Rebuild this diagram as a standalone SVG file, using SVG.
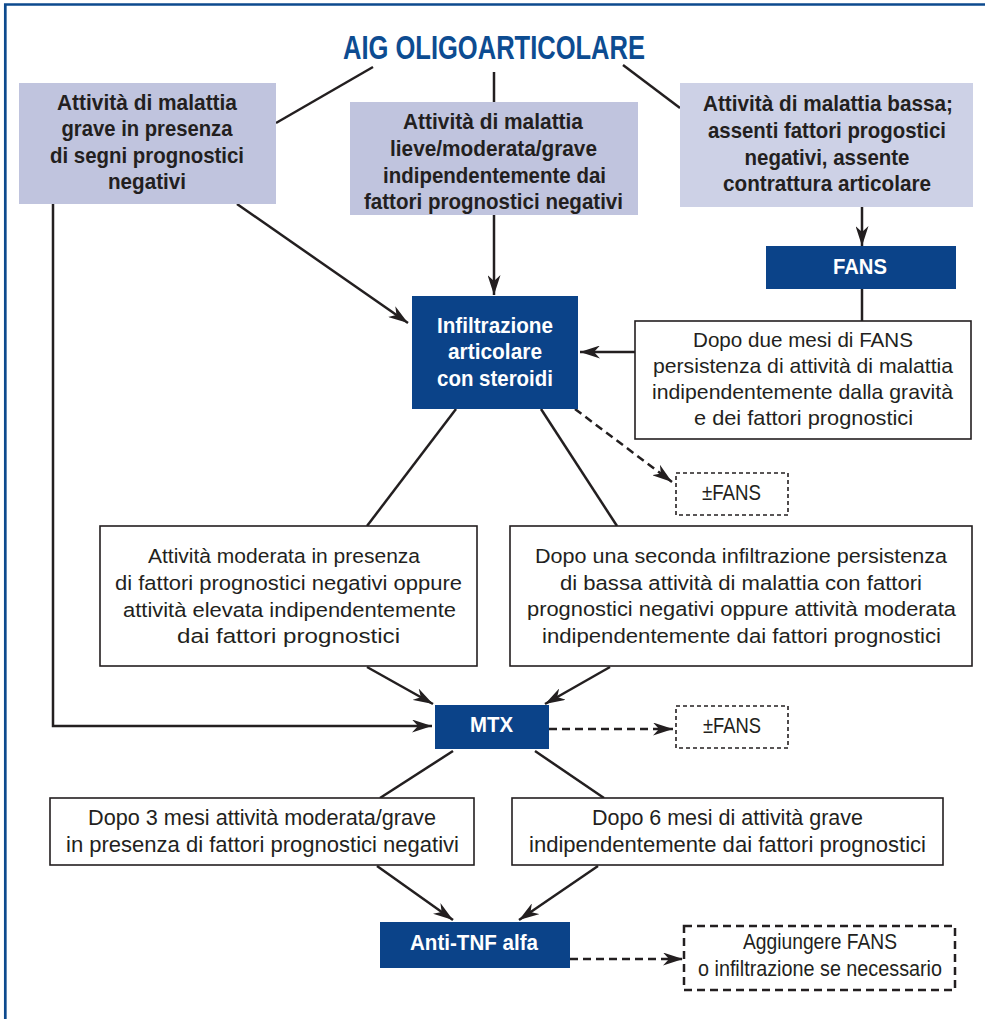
<svg xmlns="http://www.w3.org/2000/svg" width="985" height="1019" viewBox="0 0 985 1019">
<style>
.bg{fill:#ffffff}
.frame{fill:none;stroke:#0d4a8e;stroke-width:2.7}
.lb{fill:#c0c4de}
.lb2{fill:#cdd1e6}
.db{fill:#0b4389}
.wb{fill:#ffffff;stroke:#231f20;stroke-width:1.6}
.dash1{fill:#ffffff;stroke:#231f20;stroke-width:1.6;stroke-dasharray:4 3}
.dash2{fill:#ffffff;stroke:#231f20;stroke-width:2.5;stroke-dasharray:8 5}
.ln{fill:none;stroke:#231f20;stroke-width:2.5}
.lnd{fill:none;stroke:#231f20;stroke-width:2.5;stroke-dasharray:8 5}
.arr{marker-end:url(#ah)}
text{font-family:"Liberation Sans Narrow","Liberation Sans",Arial,sans-serif;text-anchor:middle}
.tb{font-weight:bold;fill:#231f20;font-size:21.5px}
.tw{font-weight:bold;fill:#ffffff;font-size:22.5px}
.tr{fill:#231f20}
.title{font-weight:bold;fill:#0d4c91;font-size:34px}
</style>
<defs>
<marker id="ah" viewBox="0 0 20 13" refX="20" refY="6.5" markerWidth="20" markerHeight="13" markerUnits="userSpaceOnUse" orient="auto">
<path d="M0,0 L20,6.5 L0,13 L6,6.5 z" fill="#231f20"/>
</marker>
</defs>
<rect class="bg" x="0" y="0" width="985" height="1019"/>
<path class="frame" d="M5.3,1019 V4.5 H985"/>

<g id="connectors">
<line class="ln" x1="373" y1="67" x2="276" y2="123"/>
<line class="ln" x1="494" y1="72" x2="494" y2="102"/>
<line class="ln" x1="623" y1="65" x2="680" y2="108"/>
<line class="ln arr" x1="862" y1="207" x2="862" y2="246"/>
<line class="ln" x1="862" y1="289" x2="862" y2="321"/>
<line class="ln arr" x1="635" y1="352" x2="580" y2="352"/>
<line class="ln arr" x1="494" y1="215" x2="494" y2="295"/>
<line class="ln arr" x1="237" y1="204" x2="408" y2="323"/>
<line class="lnd arr" x1="575" y1="409" x2="672" y2="482"/>
<line class="ln" x1="456" y1="409" x2="367" y2="526"/>
<line class="ln" x1="541" y1="409" x2="617" y2="526"/>
<line class="ln arr" x1="367" y1="667" x2="433" y2="704"/>
<line class="ln arr" x1="610" y1="667" x2="545" y2="704"/>
<polyline class="ln arr" points="53,204 53,726 432,726"/>
<line class="lnd arr" x1="549" y1="729" x2="673" y2="729"/>
<line class="ln" x1="453" y1="751" x2="380" y2="798"/>
<line class="ln" x1="535" y1="751" x2="604" y2="798"/>
<line class="ln arr" x1="377" y1="866" x2="453" y2="920"/>
<line class="ln arr" x1="598" y1="866" x2="519" y2="920"/>
<line class="lnd arr" x1="570" y1="959" x2="683" y2="959"/>
</g>

<g id="title">
<text class="title" x="494" y="59" textLength="302" lengthAdjust="spacingAndGlyphs">AIG OLIGOARTICOLARE</text>
</g>

<g id="box-grave">
<rect class="lb" x="19" y="83" width="257" height="121"/>
<text class="tb" x="147" y="110" textLength="180" lengthAdjust="spacingAndGlyphs">Attività di malattia</text>
<text class="tb" x="147" y="136" textLength="171" lengthAdjust="spacingAndGlyphs">grave in presenza</text>
<text class="tb" x="147" y="163" textLength="194" lengthAdjust="spacingAndGlyphs">di segni prognostici</text>
<text class="tb" x="147" y="189" textLength="78" lengthAdjust="spacingAndGlyphs">negativi</text>
</g>

<g id="box-lieve">
<rect class="lb" x="350" y="102" width="288" height="113"/>
<text class="tb" x="493" y="129" textLength="180" lengthAdjust="spacingAndGlyphs">Attività di malattia</text>
<text class="tb" x="493.5" y="156" textLength="207" lengthAdjust="spacingAndGlyphs">lieve/moderata/grave</text>
<text class="tb" x="494.5" y="183" textLength="223" lengthAdjust="spacingAndGlyphs">indipendentemente dai</text>
<text class="tb" x="493.5" y="209" textLength="259" lengthAdjust="spacingAndGlyphs">fattori prognostici negativi</text>
</g>

<g id="box-bassa">
<rect class="lb2" x="680" y="83" width="293" height="124"/>
<text class="tb" x="828" y="111" textLength="250" lengthAdjust="spacingAndGlyphs">Attività di malattia bassa;</text>
<text class="tb" x="827" y="138" textLength="238" lengthAdjust="spacingAndGlyphs">assenti fattori progostici</text>
<text class="tb" x="827" y="165" textLength="165" lengthAdjust="spacingAndGlyphs">negativi, assente</text>
<text class="tb" x="827" y="191" textLength="208" lengthAdjust="spacingAndGlyphs">contrattura articolare</text>
</g>

<g id="fans">
<rect class="db" x="766" y="246" width="190" height="43"/>
<text class="tw" x="860" y="274" textLength="54" lengthAdjust="spacingAndGlyphs">FANS</text>
</g>

<g id="dopo-due-mesi">
<rect class="wb" x="635" y="321" width="336" height="118"/>
<text class="tr" x="803" y="347" font-size="21" textLength="220" lengthAdjust="spacingAndGlyphs">Dopo due mesi di FANS</text>
<text class="tr" x="803" y="373" font-size="21" textLength="300" lengthAdjust="spacingAndGlyphs">persistenza di attività di malattia</text>
<text class="tr" x="802.5" y="399" font-size="21" textLength="301" lengthAdjust="spacingAndGlyphs">indipendentemente dalla gravità</text>
<text class="tr" x="803.5" y="425" font-size="21" textLength="219" lengthAdjust="spacingAndGlyphs">e dei fattori prognostici</text>
</g>

<g id="infiltrazione">
<rect class="db" x="412" y="296" width="166" height="113"/>
<text class="tw" x="495" y="333" textLength="116" lengthAdjust="spacingAndGlyphs">Infiltrazione</text>
<text class="tw" x="495" y="359" textLength="94" lengthAdjust="spacingAndGlyphs">articolare</text>
<text class="tw" x="495" y="386" textLength="116" lengthAdjust="spacingAndGlyphs">con steroidi</text>
</g>

<g id="fans-opt-1">
<rect class="dash1" x="676" y="473" width="112" height="42"/>
<text class="tr" x="731.5" y="500" font-size="21.5" textLength="59" lengthAdjust="spacingAndGlyphs">±FANS</text>
</g>

<g id="box-moderata">
<rect class="wb" x="100" y="526" width="377" height="140"/>
<text class="tr" x="284" y="563" font-size="20.5" textLength="272" lengthAdjust="spacingAndGlyphs">Attività moderata in presenza</text>
<text class="tr" x="288.5" y="590" font-size="20.5" textLength="347" lengthAdjust="spacingAndGlyphs">di fattori prognostici negativi oppure</text>
<text class="tr" x="289.5" y="617" font-size="20.5" textLength="333" lengthAdjust="spacingAndGlyphs">attività elevata indipendentemente</text>
<text class="tr" x="288.5" y="643" font-size="20.5" textLength="223" lengthAdjust="spacingAndGlyphs">dai fattori prognostici</text>
</g>

<g id="box-seconda">
<rect class="wb" x="510" y="526" width="462" height="140"/>
<text class="tr" x="741" y="563" font-size="20.5" textLength="412" lengthAdjust="spacingAndGlyphs">Dopo una seconda infiltrazione persistenza</text>
<text class="tr" x="741" y="590" font-size="20.5" textLength="362" lengthAdjust="spacingAndGlyphs">di bassa attività di malattia con fattori</text>
<text class="tr" x="741.5" y="616" font-size="20.5" textLength="429" lengthAdjust="spacingAndGlyphs">prognostici negativi oppure attività moderata</text>
<text class="tr" x="741.5" y="643" font-size="20.5" textLength="399" lengthAdjust="spacingAndGlyphs">indipendentemente dai fattori prognostici</text>
</g>

<g id="mtx">
<rect class="db" x="435" y="705" width="114" height="44"/>
<text class="tw" x="491.5" y="732" textLength="43" lengthAdjust="spacingAndGlyphs">MTX</text>
</g>

<g id="fans-opt-2">
<rect class="dash1" x="676" y="706" width="112" height="42"/>
<text class="tr" x="732" y="733" font-size="21.5" textLength="58" lengthAdjust="spacingAndGlyphs">±FANS</text>
</g>

<g id="box-3-mesi">
<rect class="wb" x="50" y="798" width="424" height="67"/>
<text class="tr" x="262" y="825" font-size="22" textLength="348" lengthAdjust="spacingAndGlyphs">Dopo 3 mesi attività moderata/grave</text>
<text class="tr" x="262.5" y="852" font-size="22" textLength="393" lengthAdjust="spacingAndGlyphs">in presenza di fattori prognostici negativi</text>
</g>

<g id="box-6-mesi">
<rect class="wb" x="512" y="798" width="431" height="67"/>
<text class="tr" x="727.5" y="825" font-size="22" textLength="271" lengthAdjust="spacingAndGlyphs">Dopo 6 mesi di attività grave</text>
<text class="tr" x="727.5" y="852" font-size="22" textLength="397" lengthAdjust="spacingAndGlyphs">indipendentemente dai fattori prognostici</text>
</g>

<g id="anti-tnf">
<rect class="db" x="380" y="922" width="190" height="46"/>
<text class="tw" x="474" y="950" textLength="128" lengthAdjust="spacingAndGlyphs">Anti-TNF alfa</text>
</g>

<g id="aggiungere">
<rect class="dash2" x="684" y="926" width="271" height="64"/>
<text class="tr" x="820" y="949" font-size="21.5" textLength="154" lengthAdjust="spacingAndGlyphs">Aggiungere FANS</text>
<text class="tr" x="820" y="976" font-size="21.5" textLength="244" lengthAdjust="spacingAndGlyphs">o infiltrazione se necessario</text>
</g>
</svg>
